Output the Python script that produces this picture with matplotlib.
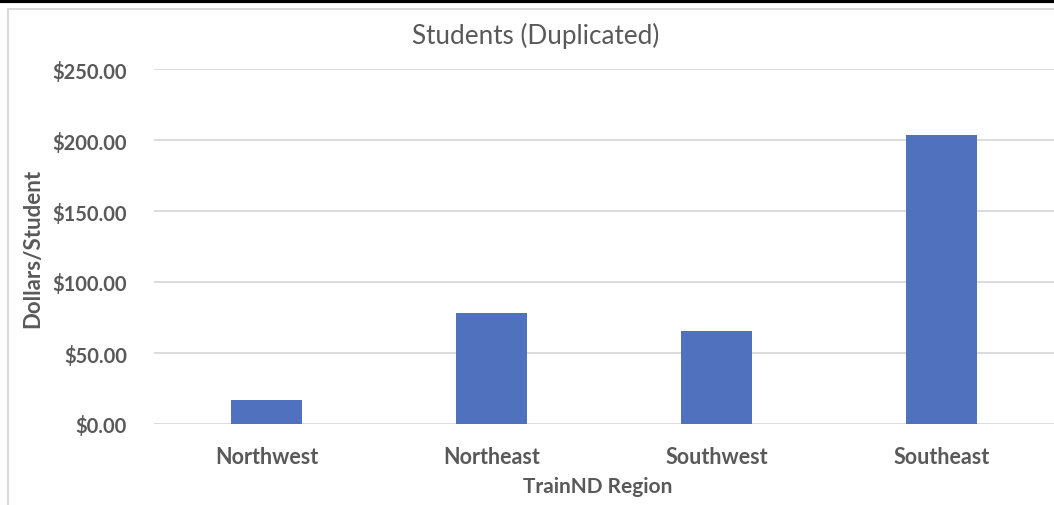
#!/usr/bin/env python3
# Students (Duplicated) - dollars per student by TrainND region
import matplotlib
matplotlib.use("Agg")
from matplotlib import pyplot as plt
from matplotlib.lines import Line2D

regions = ["Northwest", "Northeast", "Southwest", "Southeast"]
dollars_per_student = [17.1, 78.2, 65.3, 203.5]
yticks = [0, 50, 100, 150, 200, 250]
ytick_labels = [f"${v:.2f}" for v in yticks]

TEXT = "#595959"
BAR = "#4F71BE"
GRID = "#D9D9D9"
plt.rcParams["font.family"] = ["Lato", "DejaVu Sans"]

fig = plt.figure(figsize=(10.54, 5.06), dpi=100)
W, H = 1054, 506
ax = fig.add_axes([154 / W, (H - 425) / H, 1 - 154 / W, (425 - 70) / H])

ax.bar(range(len(regions)), dollars_per_student, width=0.315, color=BAR, zorder=3)
ax.set_xlim(-0.5, len(regions) - 0.5)
ax.set_ylim(0, 250)
ax.set_yticks(yticks)
ax.set_yticklabels(ytick_labels)
ax.set_xticks(range(len(regions)))
ax.set_xticklabels(regions)
ax.yaxis.grid(True, color=GRID, linewidth=1.3, zorder=0)
ax.tick_params(length=0, colors=TEXT)
ax.tick_params(axis="y", pad=19.5, labelsize=14.5)
ax.tick_params(axis="x", pad=15.5, labelsize=15.5)
for s in ax.spines.values():
    s.set_visible(False)
for lbl in ax.get_xticklabels() + ax.get_yticklabels():
    lbl.set_fontweight("bold")

fig.text(536 / W, 1 - 36 / H, "Students (Duplicated)", ha="center", va="center",
         fontsize=18.8, color=TEXT)
fig.text(598 / W, 1 - 487 / H, "TrainND Region", ha="center", va="center",
         fontsize=15, color=TEXT, fontweight="bold")
fig.text(33 / W, 1 - 248 / H, "Dollars/Student", ha="center", va="center",
         rotation=90, fontsize=16, color=TEXT, fontweight="bold")

# chart frame pieces visible in the crop
fig.add_artist(Line2D([0, 1], [1 - 1.5 / H, 1 - 1.5 / H], color="black", linewidth=3))
fig.add_artist(Line2D([8 / W, 1], [1 - 10 / H, 1 - 10 / H], color=GRID, linewidth=1.5))
fig.add_artist(Line2D([8 / W, 8 / W], [0, 1 - 10 / H], color=GRID, linewidth=1.5))

fig.savefig("out.png", dpi=100)
